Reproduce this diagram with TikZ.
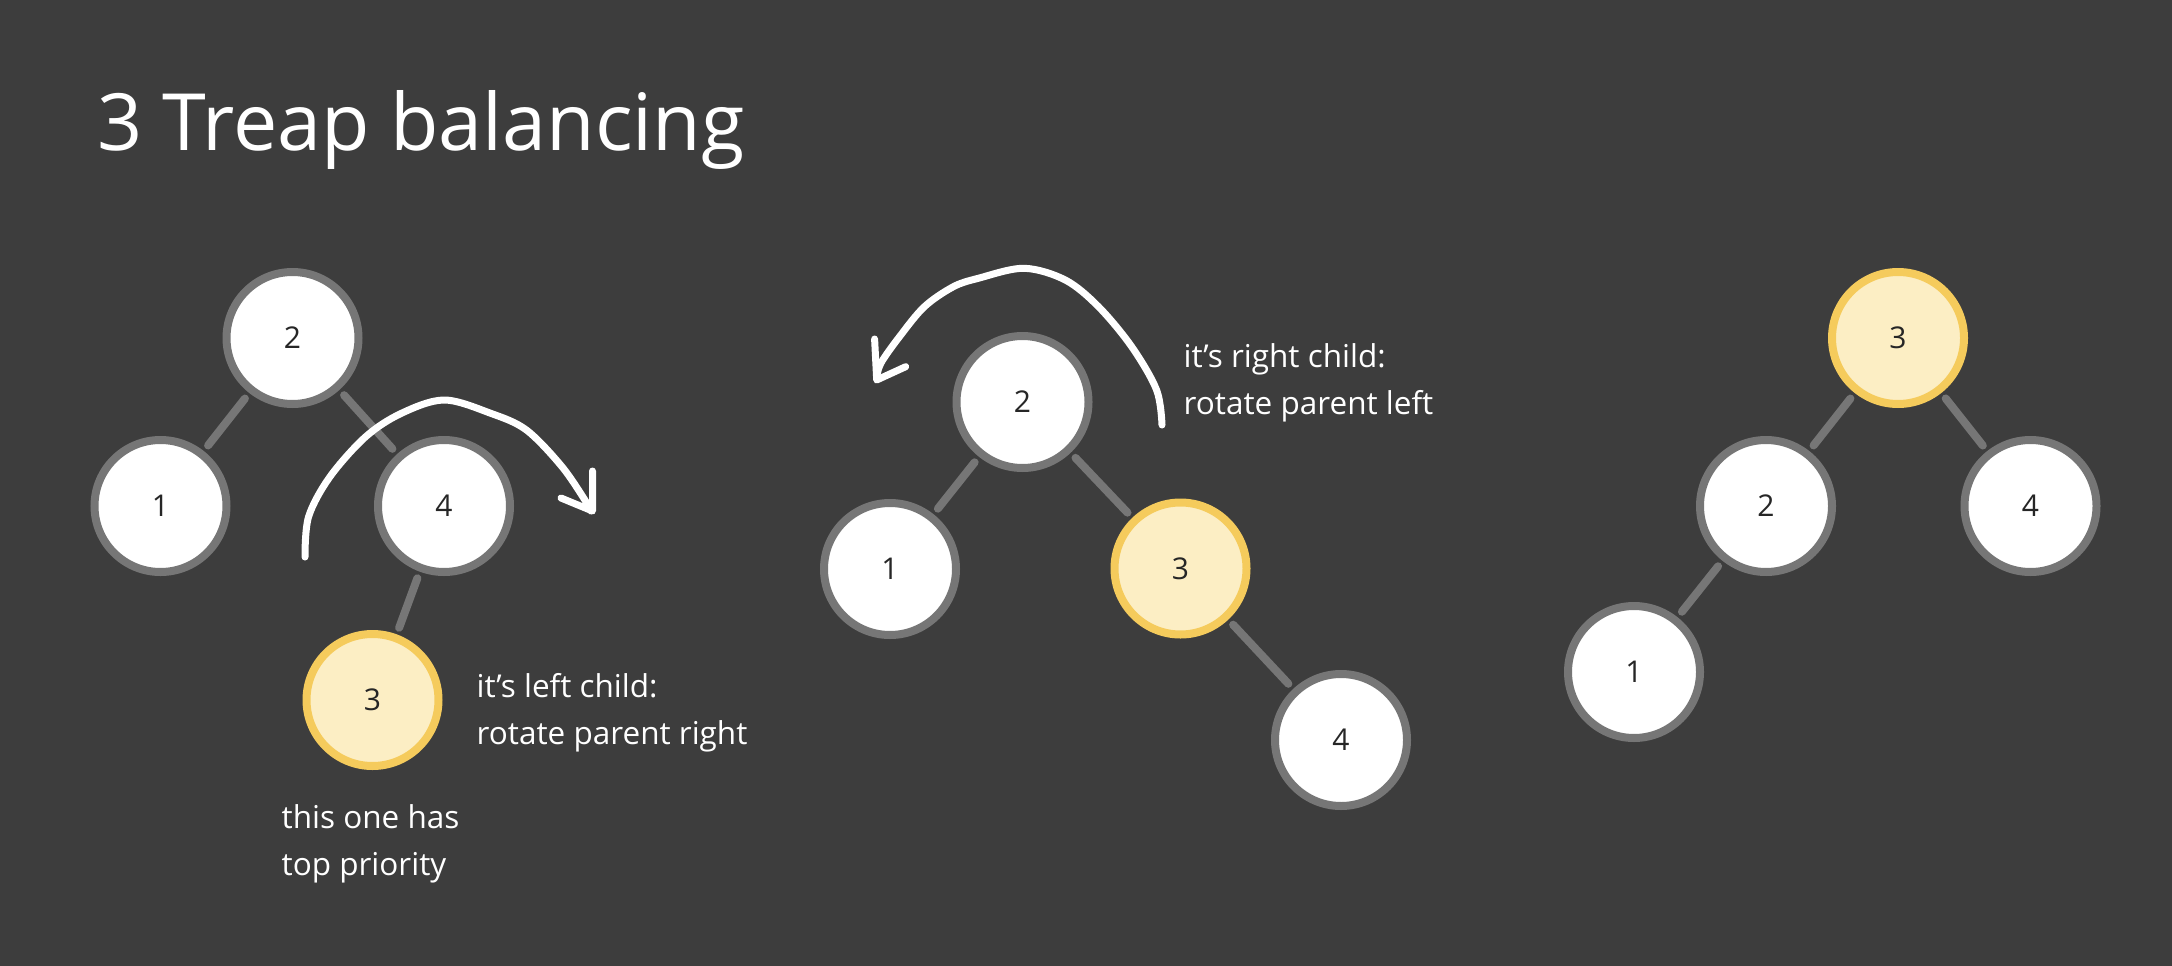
\documentclass[tikz,border=0pt]{standalone}
\usepackage{fontspec}
\setmainfont{Open Sans}
\definecolor{bg}{HTML}{3D3D3D}
\definecolor{ring}{HTML}{767676}
\definecolor{yring}{HTML}{F5CB5C}
\definecolor{yfill}{HTML}{FCEEC4}
\definecolor{ink}{HTML}{262626}
\begin{document}
\begin{tikzpicture}[x=1pt,y=-1pt,
  tnode/.style={circle, draw=ring, fill=white, line width=8pt, minimum size=132pt,
    inner sep=0pt, outer sep=11pt, font=\fontsize{30}{34}\selectfont, text=ink},
  hnode/.style={tnode, draw=yring, fill=yfill},
  edgeline/.style={draw=ring, line width=8pt, line cap=round},
  arrowline/.style={draw=white, line width=7pt, line cap=round, line join=round},
  notetext/.style={anchor=base west, inner sep=0pt, text=white, align=left,
    font=\fontsize{31.5}{47}\selectfont},
]
\fill[bg] (0,0) rectangle (2172,966);
\useasboundingbox (0,0) rectangle (2172,966);

\node[anchor=base west, inner sep=0pt, text=white, font=\fontsize{79}{90}\selectfont] (title) at (97,150) {3 Treap balancing};

% left tree
\node[tnode] (a2) at (292.5,338) {2};
\node[tnode] (a1) at (160.5,506) {1};
\node[tnode] (a4) at (444,506) {4};
\node[hnode] (a3) at (372.5,700) {3};
\draw[edgeline] (a2) -- (a1);
\draw[edgeline] (a2) -- (a4);
\draw[edgeline] (a4) -- (a3);
\draw[arrowline] plot[smooth, tension=0.55] coordinates {(305,557) (308.6,516.7) (330,476.7) (365.7,436.7) (401.4,413.3) (444.3,400) (490.7,413.3) (526.4,430) (562,466.7) (587,503.3) (591,511)};
\draw[arrowline] (592.5,471) -- (592.5,511) -- (561,498);
% anchor = baseline of last line
\node[notetext] (na) at (476.5,744) {it’s left child:\\rotate parent right};
\node[notetext] (nb) at (281.5,875) {this one has\\top priority};

% middle tree
\node[tnode] (b2) at (1022.5,402) {2};
\node[tnode] (b1) at (890,569) {1};
\node[hnode] (b3) at (1180.5,568.5) {3};
\node[tnode] (b4) at (1341,740) {4};
\draw[edgeline] (b2) -- (b1);
\draw[edgeline] (b2) -- (b3);
\draw[edgeline] (b3) -- (b4);
\draw[arrowline] plot[smooth, tension=0.55] coordinates {(1162,425) (1156.6,390) (1131.7,346.7) (1098.5,306.7) (1065.3,280) (1023.9,268.3) (978.3,278.3) (953.4,286.7) (924.4,306.7) (899.5,336.7) (880.8,363.3) (876.7,378.3)};
\draw[arrowline] (874.6,339) -- (876.7,380) -- (905.7,366.7);
\node[notetext] (nc) at (1183.5,414) {it’s right child:\\rotate parent left};

% right tree
\node[hnode] (c3) at (1898,338) {3};
\node[tnode] (c2) at (1766,506) {2};
\node[tnode] (c4) at (2030.5,506) {4};
\node[tnode] (c1) at (1634,672) {1};
\draw[edgeline] (c3) -- (c2);
\draw[edgeline] (c3) -- (c4);
\draw[edgeline] (c2) -- (c1);
\end{tikzpicture}
\end{document}
